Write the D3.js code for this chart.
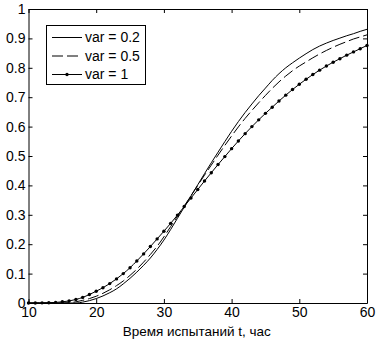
<!DOCTYPE html>
<html>
<head>
<meta charset="utf-8">
<script src="https://cdn.jsdelivr.net/npm/d3@7"></script>
<style>
  html, body { margin: 0; padding: 0; background: #fff; }
  svg { display: block; }
  text { font-family: Arial, "Liberation Sans", sans-serif; fill: #000; }
</style>
</head>
<body>
<svg id="chart" width="380" height="342"></svg>
<script>
// Time, hours
const times = d3.range(10, 61); // 10..60 step 1 (categories)
// var = 0.2 (solid)
const var02 = [0,0,0,0,0,0,0,0,0.003,0.008,0.015,0.024,0.035,0.048,0.065,0.084,0.105,0.128,0.153,0.182,0.214,0.25,0.288,0.326,0.364,0.402,0.44,0.477,0.513,0.549,0.584,0.617,0.648,0.677,0.705,0.731,0.757,0.78,0.8,0.817,0.833,0.848,0.862,0.874,0.884,0.893,0.901,0.909,0.916,0.924,0.931];
// var = 0.5 (dashed)
const var05 = [0,0,0,0,0,0,0.001,0.004,0.009,0.015,0.023,0.033,0.045,0.059,0.075,0.094,0.115,0.139,0.165,0.193,0.225,0.26,0.295,0.33,0.365,0.4,0.435,0.469,0.503,0.536,0.568,0.599,0.628,0.655,0.681,0.706,0.73,0.752,0.772,0.79,0.806,0.82,0.834,0.847,0.859,0.87,0.88,0.889,0.898,0.905,0.912];
// var = 1 (solid with dot markers)
const var1 = [0,0,0.0005,0.001,0.002,0.004,0.007,0.012,0.019,0.029,0.04,0.052,0.066,0.082,0.1,0.12,0.143,0.167,0.192,0.218,0.244,0.271,0.299,0.328,0.357,0.386,0.415,0.443,0.471,0.498,0.525,0.551,0.576,0.6,0.623,0.645,0.666,0.687,0.707,0.726,0.744,0.761,0.777,0.792,0.806,0.819,0.831,0.843,0.854,0.865,0.876];
const seriesNames = ["var = 0.2", "var = 0.5", "var = 1"];
const xTicks = [10, 20, 30, 40, 50, 60];
const yTicks = [0, 0.1, 0.2, 0.3, 0.4, 0.5, 0.6, 0.7, 0.8, 0.9, 1];
const xLabel = "Время испытаний t, час";

const svg = d3.select("#chart");
const L = 28.5, R = 367, T = 9, B = 303;
const x = d3.scaleLinear().domain([10, 60]).range([L, R]);
const y = d3.scaleLinear().domain([0, 1]).range([B, T]);

const fs = 14;
const fmt = d => (d === 0 || d === 1) ? String(d) : d3.format(".1f")(d);
const fmtX = d => String(d);

// Axes (MATLAB style, inward ticks on all sides)
const gB = svg.append("g").attr("transform", `translate(0,${B})`)
  .call(d3.axisBottom(x).tickValues(xTicks).tickFormat(fmtX).tickSize(-4).tickSizeOuter(0).tickPadding(4));
const gT = svg.append("g").attr("transform", `translate(0,${T})`)
  .call(d3.axisTop(x).tickValues(xTicks).tickFormat("").tickSize(-4).tickSizeOuter(0));
const gLft = svg.append("g").attr("transform", `translate(${L},0)`)
  .call(d3.axisLeft(y).tickValues(yTicks).tickFormat(fmt).tickSize(-4).tickSizeOuter(0).tickPadding(3));
const gRt = svg.append("g").attr("transform", `translate(${R},0)`)
  .call(d3.axisRight(y).tickValues(yTicks).tickFormat("").tickSize(-4).tickSizeOuter(0));
[gB, gT, gLft, gRt].forEach(g => {
  g.selectAll("path.domain").attr("stroke", "#000").attr("stroke-width", 1);
  g.selectAll(".tick line").attr("stroke", "#000");
  g.selectAll("text").attr("font-size", fs).attr("font-family", "Arial, 'Liberation Sans', sans-serif").attr("fill", "#000");
});

// X label
svg.append("text").attr("x", (L + R) / 2 - 1).attr("y", 336)
  .attr("text-anchor", "middle").attr("font-size", 13.5).text(xLabel);

const line = d3.line().x((d, i) => x(times[i])).y(d => y(d)).curve(d3.curveMonotoneX);
const plot = svg.append("g");
plot.append("path").datum(var02).attr("d", line).attr("fill", "none").attr("stroke", "#000").attr("stroke-width", 1);
plot.append("path").datum(var05).attr("d", line).attr("fill", "none").attr("stroke", "#000").attr("stroke-width", 1).attr("stroke-dasharray", "11,4");
plot.append("path").datum(var1).attr("d", line).attr("fill", "none").attr("stroke", "#000").attr("stroke-width", 1);
plot.selectAll("circle.m").data(var1).enter().append("circle").attr("class", "m")
  .attr("cx", (d, i) => x(times[i])).attr("cy", d => y(d)).attr("r", 1.7).attr("fill", "#000");

// Legend
const lg = svg.append("g");
lg.append("rect").attr("x", 46.5).attr("y", 25.5).attr("width", 99).attr("height", 59)
  .attr("fill", "#fff").attr("stroke", "#000").attr("stroke-width", 1);
const ly = [37.5, 56, 74.5];
const dashes = [null, "11,4", null];
seriesNames.forEach((name, i) => {
  const ln = lg.append("line").attr("x1", 52).attr("x2", 82).attr("y1", ly[i]).attr("y2", ly[i])
    .attr("stroke", "#000").attr("stroke-width", 1);
  if (dashes[i]) ln.attr("stroke-dasharray", dashes[i]);
  if (i === 2) lg.append("circle").attr("cx", 67).attr("cy", ly[i]).attr("r", 1.7).attr("fill", "#000");
  lg.append("text").attr("x", 85).attr("y", ly[i]).attr("dy", "0.35em").attr("font-size", fs).text(name);
});
</script>
</body>
</html>
